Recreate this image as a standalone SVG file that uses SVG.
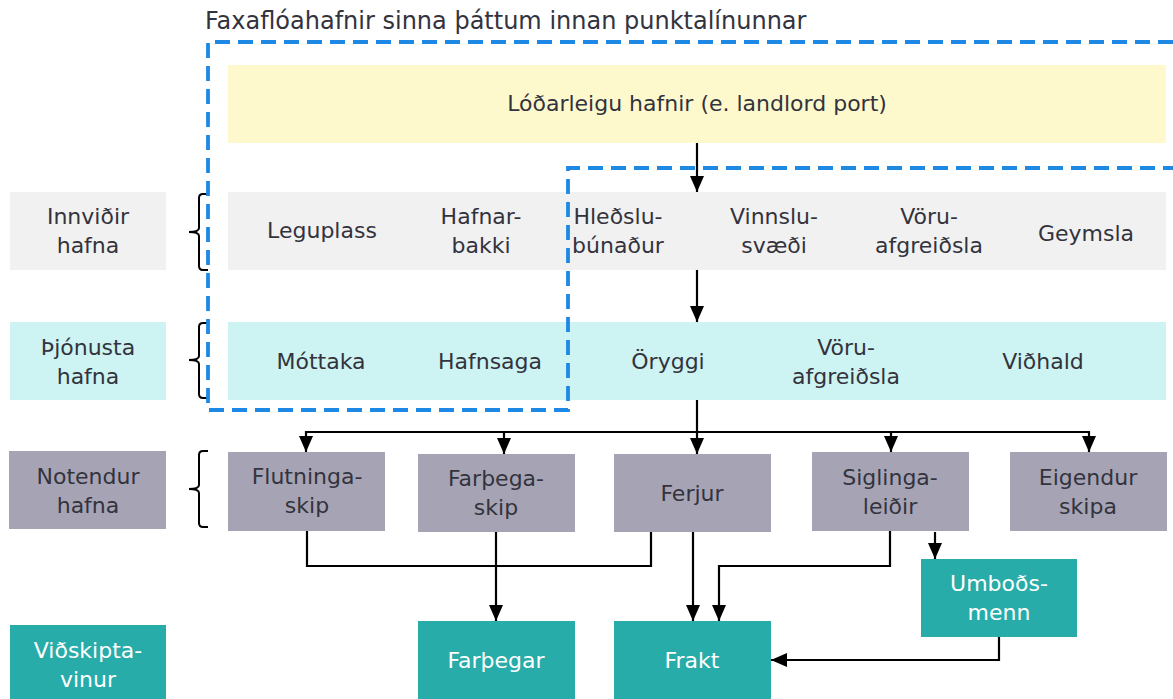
<svg xmlns="http://www.w3.org/2000/svg" width="1173" height="699" viewBox="0 0 1173 699">
<style>
  text { font-family: "DejaVu Sans", "Liberation Sans", sans-serif; font-size: 22px; fill: #33333d; text-anchor: middle; }
  .title { font-size: 24px; text-anchor: start; }
  .w { fill: #ffffff; }
  .yel { fill: #fef9cd; }
  .gry { fill: #f1f1f1; }
  .cyn { fill: #cdf3f2; }
  .pur { fill: #a6a4b4; }
  .tea { fill: #27aca9; }
  .con { fill: none; stroke: #000; stroke-width: 2.2; }
  .arr { marker-end: url(#ah); }
  .brace { fill: none; stroke: #000; stroke-width: 2; }
  .dash { fill: none; stroke: #1e88e5; stroke-width: 3.8; stroke-dasharray: 15 8; }
</style>
<defs>
  <marker id="ah" viewBox="0 0 16 14" refX="16" refY="7" markerWidth="16" markerHeight="14" markerUnits="userSpaceOnUse" orient="auto">
    <path d="M0,0 L16,7 L0,14 z" fill="#000"/>
  </marker>
</defs>
<rect width="1173" height="699" fill="#fff"/>

<text class="title" x="205" y="29">Faxaflóahafnir sinna þáttum innan punktalínunnar</text>

<g id="landlord"><rect class="yel" x="228" y="65" width="938" height="78"/><text x="697" y="111">Lóðarleigu hafnir (e. landlord port)</text></g>

<g id="lbl-innvidir"><rect class="gry" x="10" y="192" width="156" height="78"/><text x="88" y="224">Innviðir</text><text x="88" y="253">hafna</text></g>
<g id="lbl-thjonusta"><rect class="cyn" x="10" y="322" width="156" height="78"/><text x="88" y="355">Þjónusta</text><text x="88" y="384">hafna</text></g>
<g id="lbl-notendur"><rect class="pur" x="9" y="451" width="157" height="78"/><text x="88" y="484">Notendur</text><text x="88" y="513">hafna</text></g>
<g id="lbl-vidskipta"><rect class="tea" x="10" y="625" width="156" height="74"/><text class="w" x="88" y="658">Viðskipta-</text><text class="w" x="88" y="687">vinur</text></g>

<g id="braces">
  <path class="brace" d="M208,194 H203 Q199,194 199,198 V228 Q199,232 189,232 Q199,232 199,236 V266 Q199,270 203,270 H208"/>
  <path class="brace" d="M208,323 H203 Q199,323 199,327 V356 Q199,360 189,360 Q199,360 199,364 V394 Q199,398 203,398 H208"/>
  <path class="brace" d="M208,451 H203 Q199,451 199,455 V485 Q199,489 189,489 Q199,489 199,493 V523 Q199,527 203,527 H208"/>
</g>

<g id="leguplass"><rect class="gry" x="228" y="192" width="189" height="78"/><text x="322" y="238">Leguplass</text></g>
<g id="hafnarbakki"><rect class="gry" x="417" y="192" width="123" height="78"/><text x="481" y="224">Hafnar-</text><text x="481" y="253">bakki</text></g>
<g id="hledslubunadur"><rect class="gry" x="540" y="192" width="156" height="78"/><text x="618" y="224">Hleðslu-</text><text x="618" y="253">búnaður</text></g>
<g id="vinnslusvaedi"><rect class="gry" x="696" y="192" width="155" height="78"/><text x="774" y="224">Vinnslu-</text><text x="774" y="253">svæði</text></g>
<g id="voruafgr1"><rect class="gry" x="851" y="192" width="155" height="78"/><text x="929" y="224">Vöru-</text><text x="929" y="253">afgreiðsla</text></g>
<g id="geymsla"><rect class="gry" x="1006" y="192" width="160" height="78"/><text x="1086" y="241">Geymsla</text></g>

<g id="mottaka"><rect class="cyn" x="228" y="322" width="177" height="78"/><text x="321" y="369">Móttaka</text></g>
<g id="hafnsaga"><rect class="cyn" x="405" y="322" width="174" height="78"/><text x="490" y="369">Hafnsaga</text></g>
<g id="oryggi"><rect class="cyn" x="579" y="322" width="178" height="78"/><text x="668" y="369">Öryggi</text></g>
<g id="voruafgr2"><rect class="cyn" x="757" y="322" width="187" height="78"/><text x="846" y="355">Vöru-</text><text x="846" y="384">afgreiðsla</text></g>
<g id="vidhald"><rect class="cyn" x="944" y="322" width="222" height="78"/><text x="1043" y="369">Viðhald</text></g>

<g id="flutningaskip"><rect class="pur" x="228" y="452" width="157" height="79"/><text x="307" y="484">Flutninga-</text><text x="307" y="513">skip</text></g>
<g id="farthegaskip"><rect class="pur" x="418" y="454" width="157" height="78"/><text x="496" y="486">Farþega-</text><text x="496" y="515">skip</text></g>
<g id="ferjur"><rect class="pur" x="614" y="454" width="157" height="78"/><text x="692" y="501">Ferjur</text></g>
<g id="siglingaleidir"><rect class="pur" x="812" y="452" width="157" height="79"/><text x="890" y="485">Siglinga-</text><text x="890" y="514">leiðir</text></g>
<g id="eigendur"><rect class="pur" x="1010" y="452" width="157" height="79"/><text x="1088" y="485">Eigendur</text><text x="1088" y="514">skipa</text></g>

<g id="umbodsmenn"><rect class="tea" x="921" y="559" width="156" height="78"/><text class="w" x="999" y="591">Umboðs-</text><text class="w" x="999" y="620">menn</text></g>
<g id="farthegar"><rect class="tea" x="418" y="621" width="157" height="78"/><text class="w" x="496" y="668">Farþegar</text></g>
<g id="frakt"><rect class="tea" x="614" y="621" width="157" height="78"/><text class="w" x="692" y="668">Frakt</text></g>

<g id="scope">
  <path class="dash" d="M1173,42 H208 V410 H568 V168 H1173"/>
</g>

<g id="connectors">
  <path class="con arr" d="M697,143 V192"/>
  <path class="con arr" d="M697,270 V322"/>
  <path class="con arr" d="M697,400 V454"/>
  <path class="con" d="M306,432 H1089"/>
  <path class="con arr" d="M306,431 V452"/>
  <path class="con arr" d="M504,431 V454"/>
  <path class="con arr" d="M891,431 V452"/>
  <path class="con arr" d="M1089,431 V452"/>
  <path class="con" d="M307,531 V566 H651 V532"/>
  <path class="con arr" d="M496,532 V621"/>
  <path class="con arr" d="M693,532 V621"/>
  <path class="con arr" d="M890,531 V566 H719 V621"/>
  <path class="con arr" d="M935,532 V559"/>
  <path class="con arr" d="M999,637 V660 H771"/>
</g>
</svg>
